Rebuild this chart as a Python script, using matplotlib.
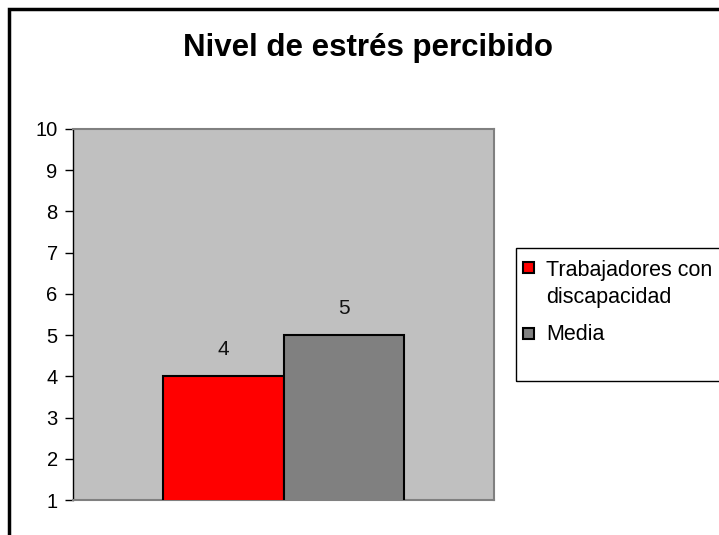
import matplotlib
matplotlib.use("Agg")
import matplotlib.pyplot as plt
from matplotlib.patches import Rectangle

plt.rcParams['font.family'] = ['Liberation Sans', 'DejaVu Sans']

title = "Nivel de estrés percibido"
series_names = ["Trabajadores con\ndiscapacidad", "Media"]
values = [4, 5]
colors = ["#FF0000", "#808080"]
yticks = [1, 2, 3, 4, 5, 6, 7, 8, 9, 10]

W, H = 719, 535
fig = plt.figure(figsize=(W / 100, H / 100), dpi=100)

def fx(x):
    return x / W

def fy(y):
    return 1 - y / H

# plot area
ax = fig.add_axes([fx(73), fy(500), fx(494) - fx(73), fy(129) - fy(500)])
ax.set_facecolor("#C0C0C0")

width = 0.286
offsets = [-width / 2, width / 2]
for off, v, c in zip(offsets, values, colors):
    ax.bar(off, v, width=width, color=c, edgecolor="black", linewidth=1.5, zorder=3)
    ax.annotate(str(v), xy=(off, v), xytext=(0, 19.5), textcoords="offset points",
                ha="center", va="center", fontsize=15, color="#111111")

ax.set_xlim(-0.5, 0.5)
ax.set_ylim(1, 10)
ax.set_yticks(yticks)
ax.set_yticklabels([str(t) for t in yticks], fontsize=14.5)
ax.set_xticks([])
ax.tick_params(axis="y", length=6, width=1, color="black", pad=5, direction="out")
for s in ["top", "right", "bottom"]:
    ax.spines[s].set_color("#808080")
    ax.spines[s].set_linewidth(1.5)
ax.spines["left"].set_color("black")
ax.spines["left"].set_linewidth(1)

# title
fig.text(fx(368), fy(56), title, ha="center", va="baseline", fontsize=22.5, fontweight="bold")

# figure border (extends past right and bottom edges)
fig.patches.append(Rectangle((fx(9), fy(560)), fx(760) - fx(9), fy(9) - fy(560),
                             transform=fig.transFigure, fill=False, edgecolor="black",
                             linewidth=2.5, figure=fig))

# legend box
fig.patches.append(Rectangle((fx(516), fy(381)), fx(740) - fx(516), fy(248) - fy(381),
                             transform=fig.transFigure, fill=False, edgecolor="black",
                             linewidth=1, figure=fig))
# legend entries
marker_tops = [262, 328]
text_baselines = [276, 340]
line_step = 27
for name, c, mt, tb in zip(series_names, colors, marker_tops, text_baselines):
    fig.patches.append(Rectangle((fx(523), fy(mt + 11)), fx(534) - fx(523), fy(mt) - fy(mt + 11),
                                 transform=fig.transFigure, facecolor=c, edgecolor="black",
                                 linewidth=1.5, figure=fig))
    for i, line in enumerate(name.split("\n")):
        fig.text(fx(546), fy(tb + i * line_step), line, ha="left", va="baseline", fontsize=15.5)

fig.savefig("out.png", dpi=100)
